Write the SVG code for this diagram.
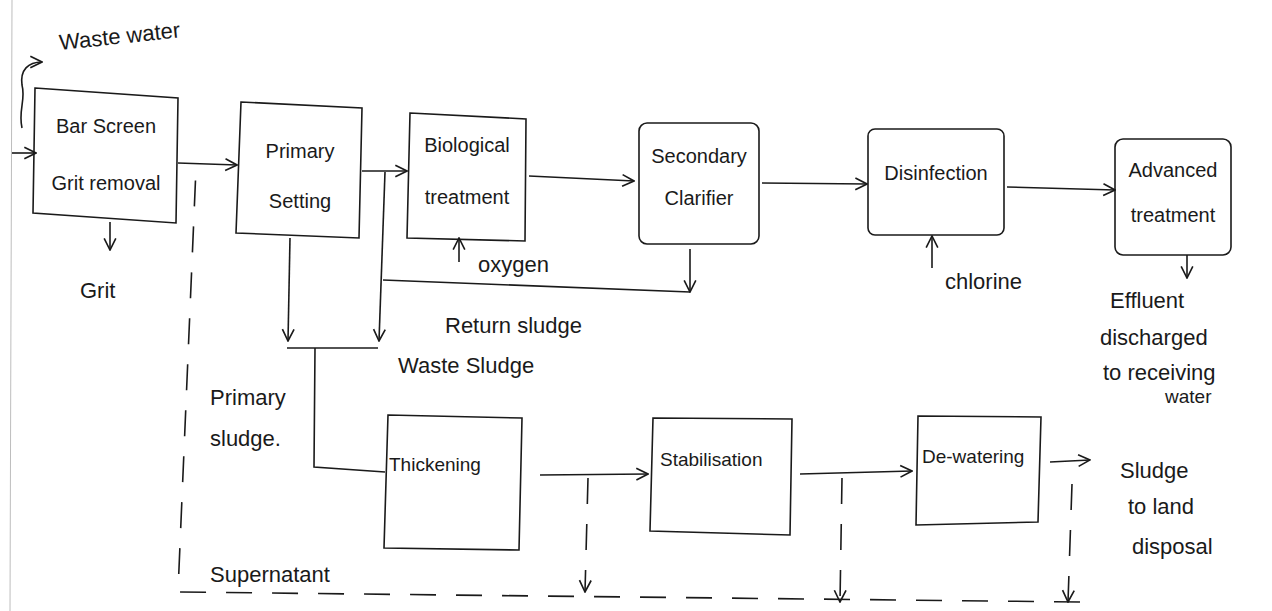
<svg xmlns="http://www.w3.org/2000/svg" width="1272" height="611" viewBox="0 0 1272 611">
<style>
.box{fill:none;stroke:#1a1a1a;stroke-width:1.6}
.ln{fill:none;stroke:#1a1a1a;stroke-width:1.6}
.dash{fill:none;stroke:#1a1a1a;stroke-width:1.6;stroke-dasharray:26,20}
.t{font-family:"Liberation Sans",Arial,sans-serif;font-size:19px;fill:#1a1a1a}
.tc{font-family:"Liberation Sans",Arial,sans-serif;font-size:20px;fill:#1a1a1a;text-anchor:middle}
.lg{font-family:"Liberation Sans",Arial,sans-serif;font-size:22px;fill:#1a1a1a}
</style>
<defs>
<marker id="ah" viewBox="0 0 12 12" refX="11" refY="6" markerWidth="14" markerHeight="14" markerUnits="userSpaceOnUse" orient="auto">
<path d="M1,1 L11,6 L1,11" fill="none" stroke="#1a1a1a" stroke-width="1.4"/>
</marker>
</defs>
<rect width="1272" height="611" fill="#ffffff"/>
<line x1="12" y1="0" x2="10" y2="611" stroke="#bdbdbd" stroke-width="1"/>

<g id="connectors">
<path class="ln" d="M22,128 C18,110 26,100 22,85 C20,70 28,62 42,62" marker-end="url(#ah)"/>
<line class="ln" x1="12" y1="153" x2="36" y2="153" marker-end="url(#ah)"/>
<line class="ln" x1="178" y1="163" x2="237" y2="165" marker-end="url(#ah)"/>
<line class="ln" x1="110" y1="222" x2="110" y2="250" marker-end="url(#ah)"/>
<line class="ln" x1="362" y1="171" x2="407" y2="171" marker-end="url(#ah)"/>
<line class="ln" x1="529" y1="176" x2="634" y2="181" marker-end="url(#ah)"/>
<line class="ln" x1="762" y1="183" x2="867" y2="184" marker-end="url(#ah)"/>
<line class="ln" x1="1007" y1="187" x2="1115" y2="190" marker-end="url(#ah)"/>
<line class="ln" x1="1187" y1="255" x2="1187" y2="278" marker-end="url(#ah)"/>
<line class="ln" x1="459" y1="262" x2="459" y2="238" marker-end="url(#ah)"/>
<line class="ln" x1="932" y1="268" x2="932" y2="236" marker-end="url(#ah)"/>
<line class="ln" x1="690" y1="249" x2="690" y2="292" marker-end="url(#ah)"/>
<line class="ln" x1="383" y1="280" x2="690" y2="292"/>
<line class="ln" x1="385" y1="172" x2="379" y2="341" marker-end="url(#ah)"/>
<line class="ln" x1="290" y1="238" x2="288" y2="341" marker-end="url(#ah)"/>
<line class="ln" x1="287" y1="348" x2="378" y2="348"/>
<polyline class="ln" points="315,348 314,467 385,472"/>
<line class="ln" x1="540" y1="475" x2="648" y2="474" marker-end="url(#ah)"/>
<line class="ln" x1="800" y1="474" x2="912" y2="471" marker-end="url(#ah)"/>
<line class="ln" x1="1050" y1="462" x2="1090" y2="460" marker-end="url(#ah)"/>
<line class="dash" x1="588" y1="478" x2="585" y2="592" marker-end="url(#ah)"/>
<line class="dash" x1="842" y1="478" x2="840" y2="602" marker-end="url(#ah)"/>
<line class="dash" x1="1072" y1="484" x2="1068" y2="602" marker-end="url(#ah)"/>
<polyline class="dash" points="1080,602 178,592 196,168"/>
</g>

<g id="bar-screen">
<polygon class="box" points="35,88 178,98 176,223 33,213"/>
<text class="tc" x="106" y="133">Bar Screen</text>
<text class="tc" x="106" y="190">Grit removal</text>
</g>
<g id="primary-setting">
<polygon class="box" points="241,102 362,108 359,238 236,233"/>
<text class="tc" x="300" y="158">Primary</text>
<text class="tc" x="300" y="208">Setting</text>
</g>
<g id="biological-treatment">
<polygon class="box" points="410,113 526,119 525,241 407,238"/>
<text class="tc" x="467" y="152">Biological</text>
<text class="tc" x="467" y="204">treatment</text>
</g>
<g id="secondary-clarifier">
<rect class="box" x="639" y="123" width="120" height="121" rx="8"/>
<text class="tc" x="699" y="163">Secondary</text>
<text class="tc" x="699" y="205">Clarifier</text>
</g>
<g id="disinfection">
<rect class="box" x="868" y="129" width="136" height="106" rx="7"/>
<text class="tc" x="936" y="180">Disinfection</text>
</g>
<g id="advanced-treatment">
<rect class="box" x="1115" y="139" width="116" height="116" rx="8"/>
<text class="tc" x="1173" y="177">Advanced</text>
<text class="tc" x="1173" y="222">treatment</text>
</g>
<g id="thickening">
<polygon class="box" points="388,415 522,418 519,550 384,548"/>
<text class="t" x="389" y="471">Thickening</text>
</g>
<g id="stabilisation">
<polygon class="box" points="653,418 792,419 790,535 650,531"/>
<text class="t" x="660" y="466">Stabilisation</text>
</g>
<g id="de-watering">
<polygon class="box" points="918,416 1041,417 1038,522 916,525"/>
<text class="t" x="922" y="463">De-watering</text>
</g>

<g id="labels">
<text class="lg" x="60" y="50" transform="rotate(-6 60 50)">Waste water</text>
<text class="lg" x="80" y="298">Grit</text>
<text class="lg" x="478" y="272">oxygen</text>
<text class="lg" x="945" y="289">chlorine</text>
<text class="lg" x="445" y="333">Return sludge</text>
<text class="lg" x="398" y="373">Waste Sludge</text>
<text class="lg" x="210" y="405">Primary</text>
<text class="lg" x="210" y="446">sludge.</text>
<text class="lg" x="210" y="582">Supernatant</text>
<text class="lg" x="1110" y="308">Effluent</text>
<text class="lg" x="1100" y="345">discharged</text>
<text class="lg" x="1103" y="380">to receiving</text>
<text class="t" x="1165" y="403">water</text>
<text class="lg" x="1120" y="478">Sludge</text>
<text class="lg" x="1128" y="514">to land</text>
<text class="lg" x="1132" y="554">disposal</text>
</g>
</svg>
